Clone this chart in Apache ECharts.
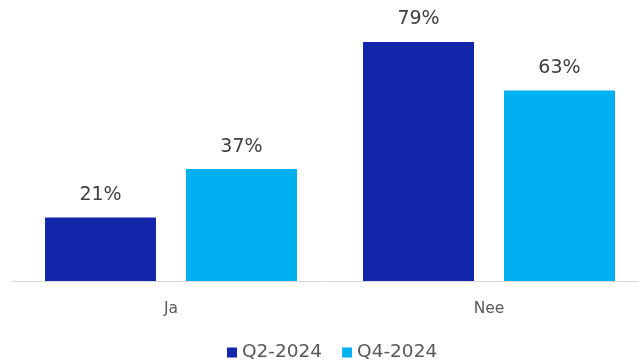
<!DOCTYPE html>
<html><head><meta charset="utf-8">
<script src="https://cdn.jsdelivr.net/npm/echarts@6/dist/echarts.min.js"></script>
<style>html,body{margin:0;padding:0;background:#fff}#c{width:639px;height:362px}</style>
</head><body><div id="c"></div>
<script>
const categories = ['Ja', 'Nee'];
const seriesNames = ['Q2-2024', 'Q4-2024'];
const q2Values = [21, 79];
const q4Values = [37, 63];
const colors = ['#1226AA', '#00B0F0'];
const font = 'DejaVu Sans';
const chart = echarts.init(document.getElementById('c'));
const mk = (name, data, color) => ({
  name, type: 'bar', data, barWidth: 111, barGap: '27%',
  itemStyle: { color },
  label: { show: true, position: 'top', distance: 13, formatter: '{c}%', color: '#404040', fontSize: 19, fontFamily: font }
});
chart.setOption({
  animation: false,
  textStyle: { fontFamily: font },
  grid: { left: 12, width: 636, top: 39, bottom: 81, outerBoundsMode: 'none', containLabel: false },
  legend: {
    left: 222, top: 338, itemWidth: 10, itemHeight: 10, itemGap: 20,
    icon: 'rect',
    textStyle: { color: '#595959', fontSize: 18.5, fontFamily: font }
  },
  xAxis: {
    type: 'category', data: categories,
    axisLine: { lineStyle: { color: '#D9D9D9', width: 1 } },
    axisTick: { show: false },
    axisLabel: { color: '#595959', fontSize: 15.5, fontFamily: font, margin: 20 }
  },
  yAxis: { type: 'value', min: 0, max: 80, show: false, splitLine: { show: false } },
  series: [mk(seriesNames[0], q2Values, colors[0]), mk(seriesNames[1], q4Values, colors[1])]
});
</script></body></html>
